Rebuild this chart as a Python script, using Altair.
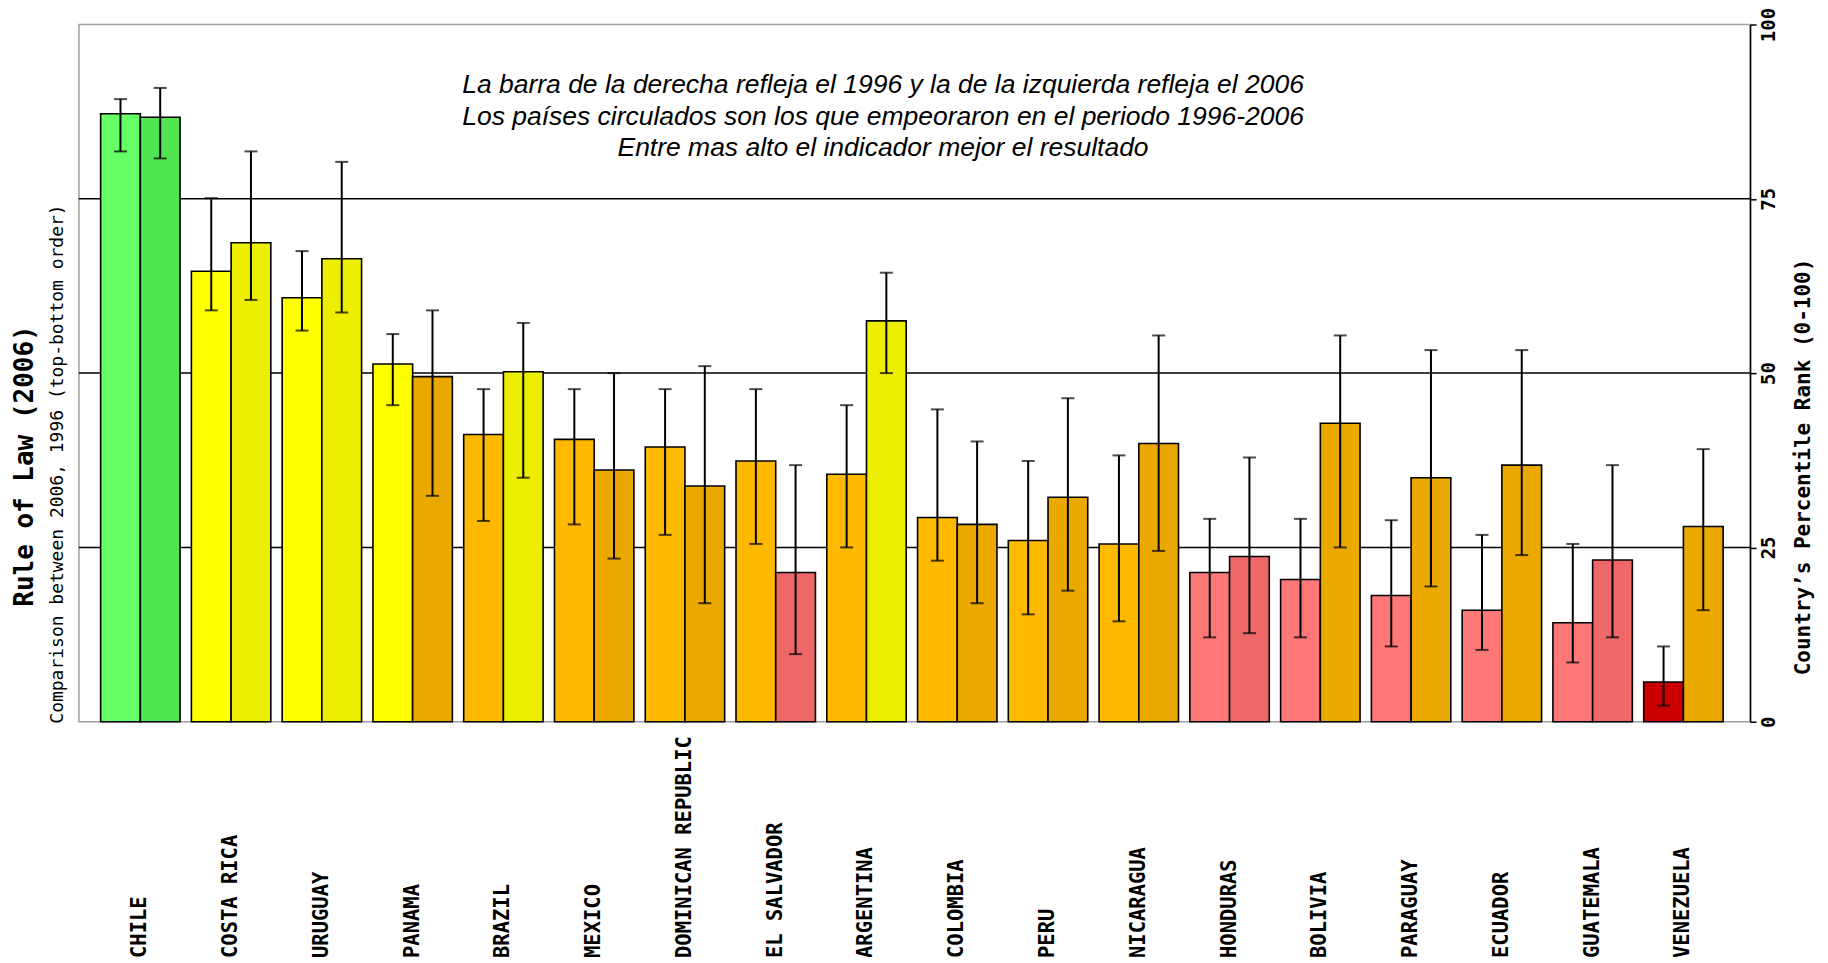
import altair as alt
import pandas as pd

countries = ["CHILE", "COSTA RICA", "URUGUAY", "PANAMA", "BRAZIL", "MEXICO",
             "DOMINICAN REPUBLIC", "EL SALVADOR", "ARGENTINA", "COLOMBIA", "PERU",
             "NICARAGUA", "HONDURAS", "BOLIVIA", "PARAGUAY", "ECUADOR", "GUATEMALA",
             "VENEZUELA"]
years = ["2006", "1996"]

rank_2006 = [87.2, 64.6, 60.8, 51.3, 41.2, 40.5, 39.4, 37.4, 35.5, 29.3, 26.0, 25.5,
             21.4, 20.4, 18.1, 16.0, 14.2, 5.7]
lo_2006 = [81.8, 59.0, 56.1, 45.4, 28.8, 28.3, 26.8, 25.5, 25.0, 23.1, 15.4, 14.4,
           12.1, 12.1, 10.8, 10.3, 8.5, 2.3]
hi_2006 = [89.3, 75.1, 67.5, 55.6, 47.7, 47.7, 47.7, 47.7, 45.4, 44.8, 37.4, 38.2,
           29.1, 29.1, 28.9, 26.8, 25.5, 10.8]

rank_1996 = [86.7, 68.7, 66.4, 49.5, 50.2, 36.1, 33.8, 21.4, 57.5, 28.3, 32.2, 39.9,
             23.7, 42.8, 35.0, 36.8, 23.2, 28.0]
lo_1996 = [80.8, 60.5, 58.7, 32.4, 35.0, 23.4, 17.0, 9.7, 50.0, 17.0, 18.8, 24.5,
           12.7, 25.0, 19.4, 23.9, 12.1, 16.0]
hi_1996 = [90.9, 81.8, 80.3, 59.0, 57.2, 50.0, 51.0, 36.8, 64.4, 40.2, 46.4, 55.4,
           37.9, 55.4, 53.3, 53.3, 36.8, 39.1]

y_ticks = [0, 25, 50, 75, 100]
grid_values = [25, 50, 75]

note_lines = [
    "La barra de la derecha refleja el 1996 y la de la izquierda refleja el 2006",
    "Los países circulados son los que empeoraron en el periodo 1996-2006",
    "Entre mas alto el indicador mejor el resultado",
]
left_title = "Rule of Law (2006)"
left_subtitle = "Comparison between 2006, 1996 (top-bottom order)"
right_title = "Country\u2019s Percentile Rank (0-100)"

# percentile classes (WGI colour bands)
class_edges = [0, 10, 25, 50, 75, 100.1]
classes = ["red", "pink", "orange", "yellow", "green"]
class_colors = {
    "red": ("#CC0000", "#B80000"),
    "pink": ("#FF7878", "#EE6868"),
    "orange": ("#FFB900", "#EBA900"),
    "yellow": ("#FFFF00", "#EEEE00"),
    "green": ("#66FF66", "#52E552"),
}

rows = []
for i, c in enumerate(countries):
    rows.append(dict(country=c, year="2006", rank=rank_2006[i], lo=lo_2006[i], hi=hi_2006[i]))
    rows.append(dict(country=c, year="1996", rank=rank_1996[i], lo=lo_1996[i], hi=hi_1996[i]))
df = pd.DataFrame(rows)
df["cls"] = (pd.cut(df["rank"], bins=class_edges, labels=classes, right=False).astype(str)
             + " " + df["year"])
color_domain = [f"{c} {y}" for c in classes for y in years]
color_range = [class_colors[c][j] for c in classes for j in range(2)]

W, H = 1673, 698
MONO = "DejaVu Sans Mono"

x_enc = alt.X(
    "country:N", sort=countries,
    scale=alt.Scale(paddingInner=0.125, paddingOuter=0.268, align=0.446),
    axis=alt.Axis(title=None, labelAngle=270, labelAlign="left", labelBaseline="middle",
                  labelPadding=236, labelFont=MONO, labelFontWeight="bold",
                  labelFontSize=20.5, labelColor="black", labelLimit=1000,
                  ticks=False, tickSize=0, domain=False, grid=False),
)
xo_enc = alt.XOffset("year:N", sort=years, scale=alt.Scale(paddingInner=0, paddingOuter=0))
y_scale = alt.Scale(domain=[0, 100], nice=False, zero=True)
y_axis = alt.Axis(orient="right", values=y_ticks, title=None, grid=False,
                  domain=True, domainColor="black", domainWidth=1.5,
                  tickColor="black", tickSize=6, tickWidth=1.5,
                  labelAngle=270, labelAlign="center", labelBaseline="middle",
                  labelPadding=12, labelFont=MONO, labelFontWeight="bold",
                  labelFontSize=19, labelColor="black")

grid = alt.Chart(pd.DataFrame({"v": grid_values})).mark_rule(
    color="black", strokeWidth=1.5
).encode(y=alt.Y("v:Q", scale=y_scale, axis=y_axis))

bars = alt.Chart(df).mark_bar(stroke="black", strokeWidth=1.6).encode(
    x=x_enc,
    xOffset=xo_enc,
    y=alt.Y("rank:Q", scale=y_scale, axis=y_axis),
    color=alt.Color("cls:N", scale=alt.Scale(domain=color_domain, range=color_range),
                    legend=None),
)

errs = alt.Chart(df).mark_rule(color="black", strokeWidth=2).encode(
    x=x_enc, xOffset=xo_enc,
    y=alt.Y("lo:Q", scale=y_scale, axis=y_axis), y2="hi:Q",
)

caps = alt.Chart(df).transform_fold(["lo", "hi"], as_=["end", "val"]).mark_tick(
    color="black", thickness=2, size=13
).encode(x=x_enc, xOffset=xo_enc, y=alt.Y("val:Q", scale=y_scale, axis=y_axis))

note = alt.Chart(pd.DataFrame({"t": ["\n".join(note_lines)]})).mark_text(
    font="Liberation Sans", fontStyle="italic", fontSize=26.5, lineHeight=31.5,
    align="center", baseline="top", lineBreak="\n", color="black"
).encode(text="t:N", x=alt.value(805), y=alt.value(48))

ltitle = alt.Chart(pd.DataFrame({"t": [left_title]})).mark_text(
    font=MONO, fontWeight="bold", fontSize=26, angle=270, align="center",
    baseline="middle", color="black"
).encode(text="t:N", x=alt.value(-54), y=alt.value(442))

lsub = alt.Chart(pd.DataFrame({"t": [left_subtitle]})).mark_text(
    font=MONO, fontSize=18, angle=270, align="center", baseline="middle", color="black"
).encode(text="t:N", x=alt.value(-21), y=alt.value(440))

rtitle = alt.Chart(pd.DataFrame({"t": [right_title]})).mark_text(
    font=MONO, fontWeight="bold", fontSize=21, angle=270, align="center",
    baseline="middle", color="black"
).encode(text="t:N", x=alt.value(1727), y=alt.value(443))

chart = alt.layer(grid, bars, errs, caps, note, ltitle, lsub, rtitle).properties(
    width=W, height=H,
    autosize=alt.AutoSizeParams(type="none"),
    padding={"left": 71, "top": 16, "right": 70, "bottom": 235},
    background="white",
).configure_view(stroke="#A0A0A0", strokeWidth=1.5)

chart.save("out.html", embed_options={"renderer": "svg", "actions": False})
